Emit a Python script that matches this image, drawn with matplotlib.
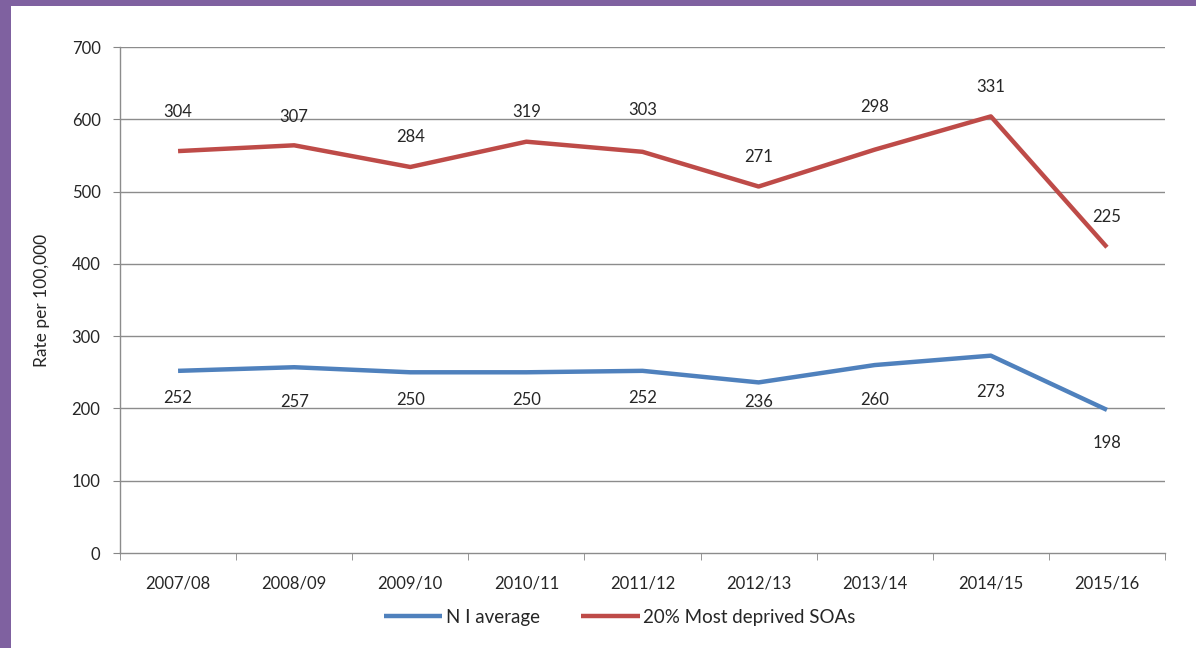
import matplotlib
matplotlib.use("Agg")
import matplotlib.pyplot as plt
import numpy as np
from matplotlib.patches import Rectangle

categories = ["2007/08", "2008/09", "2009/10", "2010/11", "2011/12",
              "2012/13", "2013/14", "2014/15", "2015/16"]
ni_average = [252, 257, 250, 250, 252, 236, 260, 273, 198]
most_deprived = [304, 307, 284, 319, 303, 271, 298, 331, 225]
y_ticks = [0, 100, 200, 300, 400, 500, 600, 700]

# label offsets in pixels (style)
red_off_px = [-39, -28, -30, -30, -42, -30, -43, -29, -30]
blue_off_px = [27, 35, 28, 28, 27, 20, 35, 36, 33]

plt.rcParams['font.family'] = ['Lato', 'DejaVu Sans']

W, H, DPI = 1196, 648, 100
fig = plt.figure(figsize=(W / DPI, H / DPI), dpi=DPI)
fig.patch.set_facecolor("white")

# purple frame (top and left bands)
purple = "#7F61A0"
fig.patches.append(Rectangle((0, 1 - 6 / H), 1, 6 / H, transform=fig.transFigure,
                             facecolor=purple, edgecolor="none", zorder=0))
fig.patches.append(Rectangle((0, 0), 11 / W, 1, transform=fig.transFigure,
                             facecolor=purple, edgecolor="none", zorder=0))

ax = fig.add_axes([120 / W, 1 - 553 / H, (1165 - 120) / W, (553 - 47) / H])

x = np.arange(len(categories))
blue_c = "#4F81BD"
red_c = "#BE4B48"
txt_c = "#262626"
stacked = np.add(ni_average, most_deprived)

ax.plot(x, ni_average, color=blue_c, lw=3.2, solid_capstyle="butt", zorder=3,
        label="N I average")
ax.plot(x, stacked, color=red_c, lw=3.2, solid_capstyle="butt", zorder=3,
        label="20% Most deprived SOAs")

for i in range(len(x)):
    ax.annotate(str(most_deprived[i]), (x[i], stacked[i]), xytext=(0, -red_off_px[i] * 0.72),
                textcoords="offset points", ha="center", va="center", fontsize=12,
                color=txt_c)
    ax.annotate(str(ni_average[i]), (x[i], ni_average[i]), xytext=(0, -blue_off_px[i] * 0.72),
                textcoords="offset points", ha="center", va="center", fontsize=12,
                color=txt_c)

ax.set_xlim(-0.5, len(categories) - 0.5)
ax.set_ylim(0, 700)
ax.set_yticks(y_ticks)
ax.set_yticklabels([str(v) for v in y_ticks], fontsize=12, color=txt_c)
ax.set_xticks(x)
ax.set_xticklabels(categories, fontsize=12, color=txt_c)
ax.set_xticks(np.arange(-0.5, len(categories), 1.0), minor=True)
ax.tick_params(axis="x", which="major", length=0, pad=16)
ax.tick_params(axis="x", which="minor", length=5, color="#868686", direction="out")
ax.tick_params(axis="y", which="major", length=5, color="#868686", direction="out", pad=9)

grid_c = "#8C8C8C"
for v in y_ticks[1:]:
    ax.axhline(v, color=grid_c, lw=1.0, zorder=1)
for s in ["top", "right"]:
    ax.spines[s].set_visible(False)
for s in ["left", "bottom"]:
    ax.spines[s].set_color(grid_c)
    ax.spines[s].set_linewidth(1.0)

ax.set_ylabel("Rate per 100,000", fontsize=12.5, color=txt_c)
ax.yaxis.set_label_coords(-70 / (1165 - 120), 0.5)

leg = ax.legend(loc="center", bbox_to_anchor=((620 - 120) / (1165 - 120), (553 - 617) / (553 - 47)),
                ncol=2, frameon=False, fontsize=13.5, handlelength=3.1,
                columnspacing=2.2, handletextpad=0.2)
for t in leg.get_texts():
    t.set_color(txt_c)

fig.savefig("out.png", dpi=DPI, facecolor="white")
